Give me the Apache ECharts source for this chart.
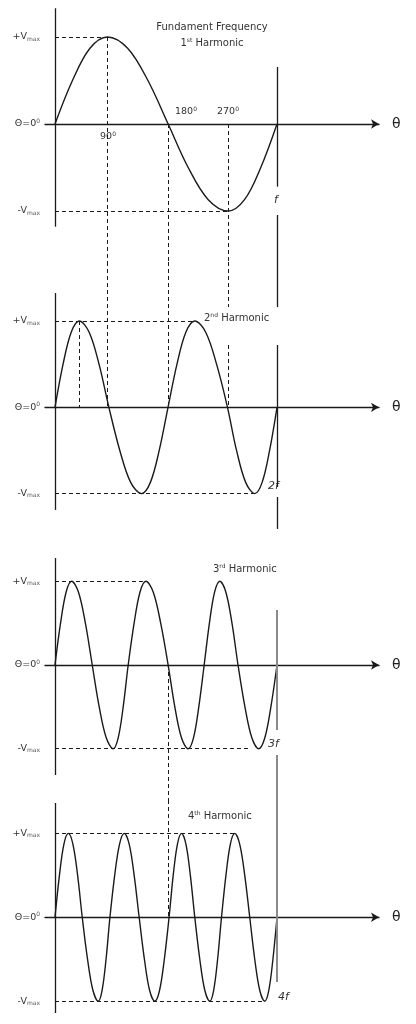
<!DOCTYPE html>
<html>
<head>
<meta charset="utf-8">
<script src="https://cdn.jsdelivr.net/npm/echarts@6/dist/echarts.min.js"></script>
<style>
html,body{margin:0;padding:0;background:#fff;}
#chart{width:416px;height:1024px;}
</style>
</head>
<body>
<div id="chart"></div>
<script>
// ---------------- data (degrees / per-unit of Vmax) -------------
const theta1 = [0, 28.3, 56.7, 85, 117.8, 150.7, 183.5, 216, 248.5, 281, 307.3, 333.7, 360];
const harmonic1 = [0, 0.5, 0.87, 1, 0.87, 0.5, 0, -0.5, -0.87, -1, -0.87, -0.5, 0];

const theta2 = [0, 13.1, 26.3, 39.4, 55.4, 71.4, 87.4, 105.1, 122.7, 140.4, 154.7, 169, 183.3,
                197.8, 212.2, 226.7, 244.4, 262, 279.7, 294.4, 309.2, 323.9, 335.9, 348, 360];
const harmonic2 = [0, 0.5, 0.87, 1, 0.87, 0.5, 0, -0.5, -0.87, -1, -0.87, -0.5, 0,
                   0.5, 0.87, 1, 0.87, 0.5, 0, -0.5, -0.87, -1, -0.87, -0.5, 0];

const theta3 = [0, 9, 18, 27, 38.1, 49.3, 60.4, 71.7, 83.1, 94.4, 102.5, 110.6, 118.7,
                128.3, 137.8, 147.4, 159.4, 171.4, 183.5, 194.3, 205.1, 215.9, 224.6, 233.2, 241.9,
                250.4, 258.8, 267.3, 277.1, 287, 296.8, 308, 319.2, 330.4, 340.3, 350.1, 360];
const harmonic3 = [0, 0.5, 0.87, 1, 0.87, 0.5, 0, -0.5, -0.87, -1, -0.87, -0.5, 0,
                   0.5, 0.87, 1, 0.87, 0.5, 0, -0.5, -0.87, -1, -0.87, -0.5, 0,
                   0.5, 0.87, 1, 0.87, 0.5, 0, -0.5, -0.87, -1, -0.87, -0.5, 0];

const theta4 = [0, 7.2, 14.4, 21.6, 29.1, 36.7, 44.2, 52.8, 61.5, 70.1, 76.4, 82.8, 89.1,
                96.8, 104.6, 112.3, 120.4, 128.4, 136.5, 145, 153.4, 161.9, 169.6, 177.3, 185,
                191.7, 198.5, 205.2, 212.4, 219.5, 226.7, 234.8, 242.9, 251, 257.3, 263.7, 270,
                277.2, 284.3, 291.5, 299.6, 307.7, 315.8, 323.9, 332, 340.1, 346.7, 353.4, 360];
const harmonic4 = [0, 0.5, 0.87, 1, 0.87, 0.5, 0, -0.5, -0.87, -1, -0.87, -0.5, 0,
                   0.5, 0.87, 1, 0.87, 0.5, 0, -0.5, -0.87, -1, -0.87, -0.5, 0,
                   0.5, 0.87, 1, 0.87, 0.5, 0, -0.5, -0.87, -1, -0.87, -0.5, 0,
                   0.5, 0.87, 1, 0.87, 0.5, 0, -0.5, -0.87, -1, -0.87, -0.5, 0];

// tick labels on the amplitude axis
const yTickValues = [-1, 0, 1];
const yTickLabels = ['-V', 'Θ=0', '+V'];
const yTickSub = ['max', '0', 'max'];

// guide lines (degrees)
const topGuideEnd = [85, 226.7, 147.4, 291.5];       // +Vmax dashed ends
const bottomGuideEnd = [281, 323.9, 316, 340.1];     // -Vmax dashed ends
const periodEnd = 360;

// annotations
const titles = ['Fundament Frequency', '1', 'st', ' Harmonic'];
const angleLabels = ['90', '180', '270'];

// ---------------- layout -------------
const bands = [
  {top: 0,   height: 262, min: -1.586, max: 1.425, axisTop: 1.33,  axisBottom: -1.18},
  {top: 262, height: 283, min: -1.596, max: 1.684, axisTop: 1.324, axisBottom: -1.19},
  {top: 545, height: 255, min: -1.613, max: 1.434, axisTop: 1.278, axisBottom: -1.314},
  {top: 800, height: 224, min: -1.272, max: 1.398, axisTop: 1.362, axisBottom: -1.141}
];
const thetas = [theta1, theta2, theta3, theta4];
const values = [harmonic1, harmonic2, harmonic3, harmonic4];

const INK = '#1a1a1a';
const dashStyle = {type: [4, 3], color: INK, width: 1};
const solidStyle = {type: 'solid', color: INK, width: 1.3};
const grayStyle = {type: 'solid', color: '#8a8a8a', width: 2};

function seg(x1, y1, x2, y2, style) {
  return [{coord: [x1, y1], lineStyle: style}, {coord: [x2, y2]}];
}

const grids = [], xAxes = [], yAxes = [], series = [];
bands.forEach((b, i) => {
  grids.push({left: 45, width: 334, top: b.top, height: b.height, containLabel: false});
  xAxes.push({
    gridIndex: i, type: 'value', min: -16.2, max: 525.4,
    axisLine: {onZero: true, symbol: ['none', 'arrow'], symbolSize: [7, 8], lineStyle: {color: INK, width: 1.3}},
    axisTick: {show: false}, axisLabel: {show: false}, splitLine: {show: false},
    name: 'θ', nameLocation: 'end', nameGap: 13,
    nameTextStyle: {fontSize: 14, color: '#222', fontFamily: 'DejaVu Sans', verticalAlign: 'middle', padding: [2, 0, 0, 0]}
  });
  yAxes.push({
    gridIndex: i, type: 'value', min: b.min, max: b.max,
    axisLine: {show: false, onZero: false}, axisTick: {show: false}, splitLine: {show: false},
    axisLabel: {
      show: true, margin: 5, customValues: yTickValues,
      formatter: (v) => {
        const k = yTickValues.indexOf(Math.round(v));
        if (k < 0) return '';
        return k === 1 ? '{m|' + yTickLabels[k] + '}{sup|' + yTickSub[k] + '}'
                       : '{m|' + yTickLabels[k] + '}{sub|' + yTickSub[k] + '}';
      },
      rich: {
        m: {fontSize: 9.5, color: '#333', fontFamily: 'DejaVu Sans'},
        sub: {fontSize: 6, color: '#555', fontFamily: 'DejaVu Sans', padding: [4, 0, 0, 0]},
        sup: {fontSize: 6, color: '#555', fontFamily: 'DejaVu Sans', padding: [0, 0, 5, 0]}
      }
    }
  });

  const lines = [];
  // vertical amplitude axis
  lines.push(seg(0, b.axisTop, 0, b.axisBottom, solidStyle));
  // +Vmax / -Vmax dashed guides
  lines.push(seg(0, 1, topGuideEnd[i], 1, dashStyle));
  lines.push(seg(0, -1, bottomGuideEnd[i], -1, dashStyle));

  const pk1 = theta1[harmonic1.indexOf(1)];
  const zr1 = theta1[6];
  const tr1 = theta1[harmonic1.indexOf(-1)];
  if (i === 0) {
    lines.push(seg(pk1, 1, pk1, b.min, dashStyle));
    lines.push(seg(zr1, 0, zr1, b.min, dashStyle));
    lines.push(seg(tr1, 0, tr1, b.min, dashStyle));
    lines.push(seg(periodEnd, 0.655, periodEnd, -0.72, solidStyle));
    lines.push(seg(periodEnd, -1.046, periodEnd, b.min, solidStyle));
  }
  if (i === 1) {
    lines.push(seg(pk1, b.max, pk1, 0, dashStyle));
    lines.push(seg(zr1, b.max, zr1, 0, dashStyle));
    lines.push(seg(tr1, b.max, tr1, 1.162, dashStyle));
    lines.push(seg(tr1, 0.722, tr1, 0, dashStyle));
    const pk2 = theta2[harmonic2.indexOf(1)];
    lines.push(seg(pk2, 1, pk2, 0, dashStyle));
    lines.push(seg(periodEnd, b.max, periodEnd, 1.162, solidStyle));
    lines.push(seg(periodEnd, 0.722, periodEnd, -0.924, solidStyle));
    lines.push(seg(periodEnd, -1.04, periodEnd, -1.41, solidStyle));
  }
  const zr3 = theta3[18];
  if (i === 2) {
    lines.push(seg(zr3, 0, zr3, b.min, dashStyle));
    lines.push(seg(periodEnd, 0.657, periodEnd, -0.777, grayStyle));
    lines.push(seg(periodEnd, -1.075, periodEnd, b.min, grayStyle));
  }
  if (i === 3) {
    lines.push(seg(zr3, b.max, zr3, 0, dashStyle));
    lines.push(seg(periodEnd, b.max, periodEnd, -0.771, grayStyle));
  }

  series.push({
    type: 'line', xAxisIndex: i, yAxisIndex: i,
    data: thetas[i].map((t, k) => [t, values[i][k]]),
    smooth: 0.35, showSymbol: false, clip: false,
    lineStyle: {color: INK, width: 1.4},
    markLine: {silent: true, symbol: ['none', 'none'], label: {show: false}, animation: false, data: lines}
  });
});

const F = 'DejaVu Sans';
function txt(x, y, text, rich, align, size, italic) {
  return {
    type: 'text', x: x, y: y, silent: true,
    style: {
      text: text, align: align || 'center', verticalAlign: 'middle',
      font: (italic ? 'italic ' : '') + (size || 10) + 'px "' + F + '"',
      fill: '#333', rich: rich || {}
    }
  };
}
const supRich = {
  a: {fontSize: 10, fontFamily: F, color: '#333'},
  s: {fontSize: 6, fontFamily: F, color: '#333', padding: [0, 0, 5, 0]}
};
const degRich = {
  a: {fontSize: 9.5, fontFamily: F, color: '#333'},
  s: {fontSize: 6, fontFamily: F, color: '#333', padding: [0, 0, 5, 0]}
};

const graphic = [
  txt(212, 27, titles[0]),
  txt(212, 43, '{a|' + titles[1] + '}{s|' + titles[2] + '}{a|' + titles[3] + '}', supRich),
  txt(108, 137, '{a|' + angleLabels[0] + '}{s|0}', degRich),
  txt(186, 112, '{a|' + angleLabels[1] + '}{s|0}', degRich),
  txt(228, 112, '{a|' + angleLabels[2] + '}{s|0}', degRich),
  txt(276, 200, 'f', null, 'center', 11, true),
  txt(204, 318, '{a|2}{s|nd}{a| Harmonic}', supRich, 'left'),
  txt(268, 486, '2f', null, 'left', 11, true),
  txt(213, 569, '{a|3}{s|rd}{a| Harmonic}', supRich, 'left'),
  txt(268, 744, '3f', null, 'left', 11, true),
  txt(188, 816, '{a|4}{s|th}{a| Harmonic}', supRich, 'left'),
  txt(278, 997, '4f', null, 'left', 11, true)
];

const chart = echarts.init(document.getElementById('chart'), null, {renderer: 'canvas'});
chart.setOption({
  animation: false,
  backgroundColor: '#fff',
  grid: grids, xAxis: xAxes, yAxis: yAxes, series: series,
  graphic: graphic
});
</script>
</body>
</html>
